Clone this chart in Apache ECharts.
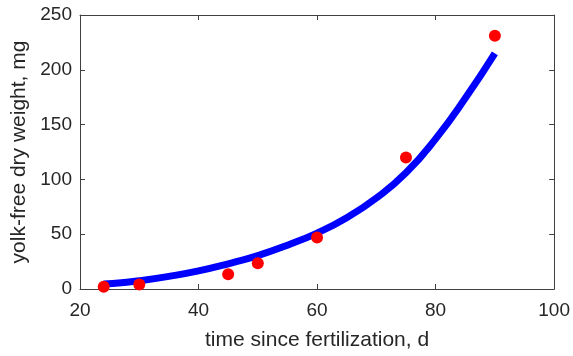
<!DOCTYPE html>
<html>
<head>
<meta charset="utf-8">
<script src="https://cdn.jsdelivr.net/npm/echarts@6/dist/echarts.min.js"></script>
<style>
html,body{margin:0;padding:0;background:#fff;}
#chart{width:573px;height:356px;}
</style>
</head>
<body>
<div id="chart"></div>
<script>
// Observed data points
var obsTime = [24, 30, 45, 50, 60, 75, 90];
var obsWeight = [2, 4, 13.5, 23.5, 47, 120, 231];

// Fitted curve
var fitTime = [24, 27, 30, 35, 40, 45, 50, 55, 60, 65, 70, 75, 80, 85, 90];
var fitWeight = [4.5, 5.8, 7.5, 11.5, 16.5, 23, 30.5, 40, 51, 65, 83, 106, 137, 174, 215];

var xTicks = [20, 40, 60, 80, 100];
var yTicks = [0, 50, 100, 150, 200, 250];

var FONT = 'Liberation Sans';
var TXT = '#262626';
var AX = '#404040';

function pairs(a, b) { return a.map(function (v, i) { return [v, b[i]]; }); }

var chart = echarts.init(document.getElementById('chart'), null, {renderer: 'canvas'});

var baseX = {
  type: 'value', min: xTicks[0], max: xTicks[xTicks.length - 1],
  interval: xTicks[1] - xTicks[0],
  splitLine: {show: false},
  axisLine: {show: true, onZero: false, lineStyle: {color: AX, width: 1}},
  axisTick: {show: true, inside: true, length: 5, lineStyle: {color: AX}}
};
var baseY = {
  type: 'value', min: yTicks[0], max: yTicks[yTicks.length - 1],
  interval: yTicks[1] - yTicks[0],
  splitLine: {show: false},
  axisLine: {show: true, onZero: false, lineStyle: {color: AX, width: 1}},
  axisTick: {show: true, inside: true, length: 5, lineStyle: {color: AX}}
};

chart.setOption({
  animation: false,
  backgroundColor: '#ffffff',
  grid: {left: 80, right: 17, top: 15, bottom: 67, containLabel: false},
  xAxis: [
    Object.assign({}, baseX, {
      position: 'bottom',
      name: 'time since fertilization, d',
      nameLocation: 'middle', nameGap: 41,
      nameTextStyle: {fontFamily: FONT, fontSize: 21, color: TXT},
      axisLabel: {fontFamily: FONT, fontSize: 19, color: TXT, margin: 12}
    }),
    Object.assign({}, baseX, {position: 'top', axisLabel: {show: false}})
  ],
  yAxis: [
    Object.assign({}, baseY, {
      position: 'left',
      name: 'yolk-free dry weight, mg',
      nameLocation: 'middle', nameGap: 47,
      nameTextStyle: {fontFamily: FONT, fontSize: 21, color: TXT},
      axisLabel: {fontFamily: FONT, fontSize: 19, color: TXT, margin: 8}
    }),
    Object.assign({}, baseY, {position: 'right', axisLabel: {show: false}})
  ],
  series: [
    {
      type: 'line', xAxisIndex: 0, yAxisIndex: 0,
      data: pairs(fitTime, fitWeight),
      smooth: true, showSymbol: false, symbol: 'none',
      lineStyle: {color: '#0000ff', width: 7, cap: 'butt'},
      z: 2
    },
    {
      type: 'scatter', xAxisIndex: 0, yAxisIndex: 0,
      data: pairs(obsTime, obsWeight),
      symbol: 'circle', symbolSize: 12,
      itemStyle: {color: '#ff0000', opacity: 1},
      z: 3
    }
  ]
});
</script>
</body>
</html>
